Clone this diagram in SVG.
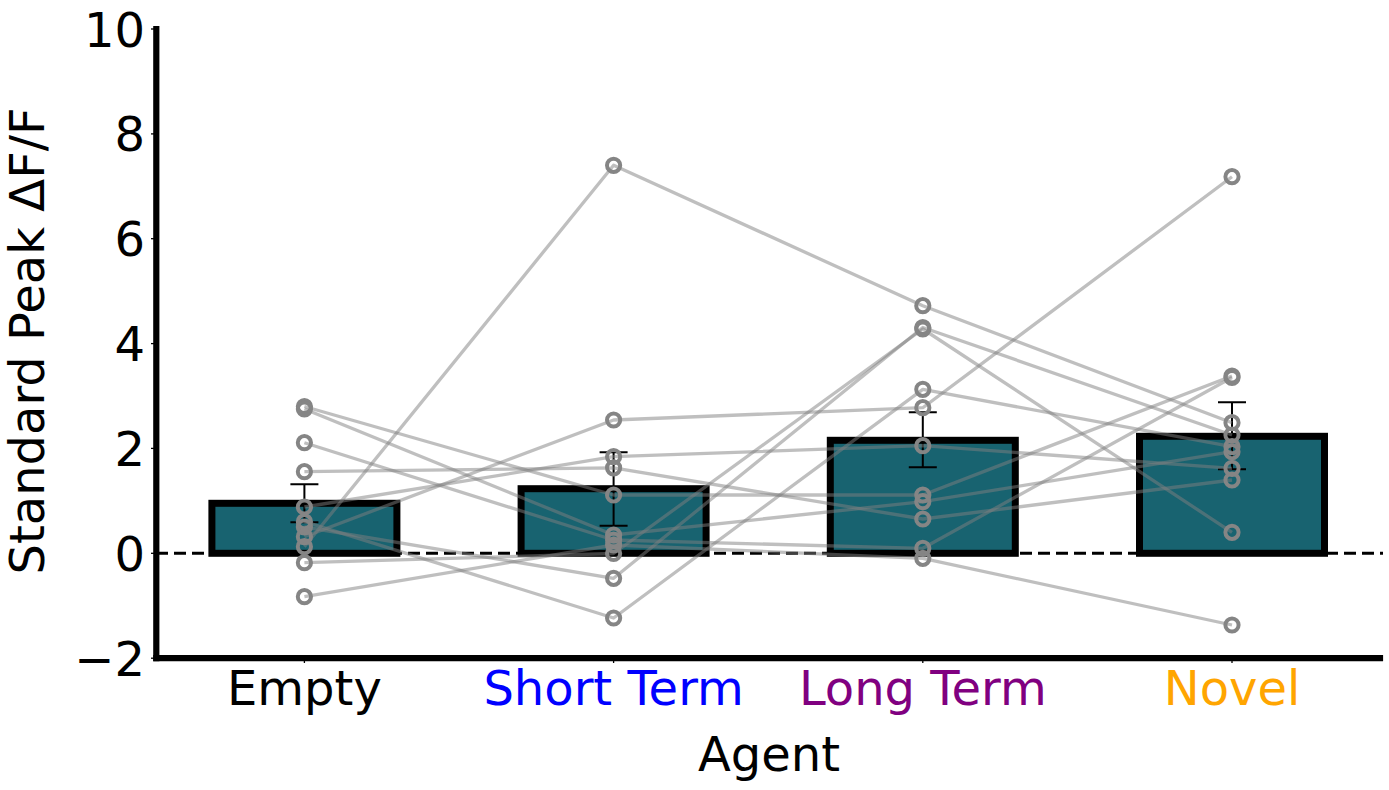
<svg xmlns="http://www.w3.org/2000/svg" width="1389" height="790" viewBox="0 0 1389 790">
<style>
text{font-family:"DejaVu Sans","Liberation Sans",sans-serif;font-size:48px;fill:#000}
.yt{text-anchor:end}
.xt{text-anchor:middle}
.bar{fill:#186370;stroke:#000;stroke-width:7}
.err{stroke:#000;stroke-width:2;fill:none}
.subj{fill:none;stroke:#808080;stroke-opacity:0.5;stroke-width:3.3;stroke-linejoin:round}
.pt{fill:none;stroke:#858585;stroke-width:4}
.tick{stroke:#000;stroke-width:1.3}
.spine{stroke:#000;stroke-width:6.2;stroke-linecap:square}
</style>
<rect width="1389" height="790" fill="#fff"/>

<g id="zero-line">
<line x1="156" y1="553.3" x2="1383" y2="553.3" stroke="#000" stroke-width="3" stroke-dasharray="12,6"/>
</g>

<g id="bar-empty"><rect class="bar" x="211.9" y="503.3" width="185" height="50"/></g>
<g id="bar-short"><rect class="bar" x="521.1" y="488.7" width="185" height="64.6"/></g>
<g id="bar-long"><rect class="bar" x="830.3" y="440.3" width="185" height="113"/></g>
<g id="bar-novel"><rect class="bar" x="1139.5" y="436.3" width="185" height="117"/></g>

<g id="errorbars">
<path class="err" d="M304.4,484.3V522.3M290.4,484.3H318.4M290.4,522.3H318.4"/>
<path class="err" d="M613.6,452.3V525.7M599.6,452.3H627.6M599.6,525.7H627.6"/>
<path class="err" d="M922.8,412.3V467.3M908.8,412.3H936.8M908.8,467.3H936.8"/>
<path class="err" d="M1232,402.3V469.3M1218,402.3H1246M1218,469.3H1246"/>
</g>

<g id="connectors">
<polyline class="subj" points="304.4,406.5 613.6,495 922.8,495 1232,376"/>
<polyline class="subj" points="304.4,409 613.6,535 922.8,501.7 1232,451.7"/>
<polyline class="subj" points="304.4,442.7 613.6,540 922.8,548.3 1232,377.5"/>
<polyline class="subj" points="304.4,471.7 613.6,467.8 922.8,519 1232,480"/>
<polyline class="subj" points="304.4,507 613.6,456.7 922.8,445.7 1232,468.3"/>
<polyline class="subj" points="304.4,521.7 613.6,618 922.8,389.3 1232,446.7"/>
<polyline class="subj" points="304.4,527 613.6,578.3 922.8,327.5 1232,435"/>
<polyline class="subj" points="304.4,536.7 613.6,420 922.8,407.7 1232,176.7"/>
<polyline class="subj" points="304.4,546.7 613.6,165.3 922.8,305.7 1232,422.7"/>
<polyline class="subj" points="304.4,562.7 613.6,553.5 922.8,329 1232,532.3"/>
<polyline class="subj" points="304.4,596.7 613.6,545 922.8,558.3 1232,625"/>
</g>

<g id="points-empty">
<circle class="pt" cx="304.4" cy="406.5" r="6.6"/><circle class="pt" cx="304.4" cy="409" r="6.6"/>
<circle class="pt" cx="304.4" cy="442.7" r="6.6"/><circle class="pt" cx="304.4" cy="471.7" r="6.6"/>
<circle class="pt" cx="304.4" cy="507" r="6.6"/><circle class="pt" cx="304.4" cy="521.7" r="6.6"/>
<circle class="pt" cx="304.4" cy="527" r="6.6"/><circle class="pt" cx="304.4" cy="536.7" r="6.6"/>
<circle class="pt" cx="304.4" cy="546.7" r="6.6"/><circle class="pt" cx="304.4" cy="562.7" r="6.6"/>
<circle class="pt" cx="304.4" cy="596.7" r="6.6"/>
</g>
<g id="points-short">
<circle class="pt" cx="613.6" cy="495" r="6.6"/><circle class="pt" cx="613.6" cy="535" r="6.6"/>
<circle class="pt" cx="613.6" cy="540" r="6.6"/><circle class="pt" cx="613.6" cy="467.8" r="6.6"/>
<circle class="pt" cx="613.6" cy="456.7" r="6.6"/><circle class="pt" cx="613.6" cy="618" r="6.6"/>
<circle class="pt" cx="613.6" cy="578.3" r="6.6"/><circle class="pt" cx="613.6" cy="420" r="6.6"/>
<circle class="pt" cx="613.6" cy="165.3" r="6.6"/><circle class="pt" cx="613.6" cy="553.5" r="6.6"/>
<circle class="pt" cx="613.6" cy="545" r="6.6"/>
</g>
<g id="points-long">
<circle class="pt" cx="922.8" cy="495" r="6.6"/><circle class="pt" cx="922.8" cy="501.7" r="6.6"/>
<circle class="pt" cx="922.8" cy="548.3" r="6.6"/><circle class="pt" cx="922.8" cy="519" r="6.6"/>
<circle class="pt" cx="922.8" cy="445.7" r="6.6"/><circle class="pt" cx="922.8" cy="389.3" r="6.6"/>
<circle class="pt" cx="922.8" cy="327.5" r="6.6"/><circle class="pt" cx="922.8" cy="407.7" r="6.6"/>
<circle class="pt" cx="922.8" cy="305.7" r="6.6"/><circle class="pt" cx="922.8" cy="329" r="6.6"/>
<circle class="pt" cx="922.8" cy="558.3" r="6.6"/>
</g>
<g id="points-novel">
<circle class="pt" cx="1232" cy="376" r="6.6"/><circle class="pt" cx="1232" cy="451.7" r="6.6"/>
<circle class="pt" cx="1232" cy="377.5" r="6.6"/><circle class="pt" cx="1232" cy="480" r="6.6"/>
<circle class="pt" cx="1232" cy="468.3" r="6.6"/><circle class="pt" cx="1232" cy="446.7" r="6.6"/>
<circle class="pt" cx="1232" cy="435" r="6.6"/><circle class="pt" cx="1232" cy="176.7" r="6.6"/>
<circle class="pt" cx="1232" cy="422.7" r="6.6"/><circle class="pt" cx="1232" cy="532.3" r="6.6"/>
<circle class="pt" cx="1232" cy="625" r="6.6"/>
</g>

<g id="axes">
<line class="spine" x1="156.3" y1="29" x2="156.3" y2="658.2"/>
<line class="spine" x1="156.3" y1="658.2" x2="1380" y2="658.2"/>
<g id="y-ticks">
<line class="tick" x1="151" y1="29" x2="156" y2="29"/>
<line class="tick" x1="151" y1="133.9" x2="156" y2="133.9"/>
<line class="tick" x1="151" y1="238.7" x2="156" y2="238.7"/>
<line class="tick" x1="151" y1="343.6" x2="156" y2="343.6"/>
<line class="tick" x1="151" y1="448.4" x2="156" y2="448.4"/>
<line class="tick" x1="151" y1="553.3" x2="156" y2="553.3"/>
<line class="tick" x1="151" y1="658.2" x2="156" y2="658.2"/>
<text class="yt" x="145" y="46.5">10</text>
<text class="yt" x="145" y="151.4">8</text>
<text class="yt" x="145" y="256.2">6</text>
<text class="yt" x="145" y="361.1">4</text>
<text class="yt" x="145" y="465.9">2</text>
<text class="yt" x="145" y="570.8">0</text>
<text class="yt" x="145" y="675.7">−2</text>
</g>
<g id="x-ticks">
<line class="tick" x1="304.4" y1="658" x2="304.4" y2="663"/>
<line class="tick" x1="613.6" y1="658" x2="613.6" y2="663"/>
<line class="tick" x1="922.8" y1="658" x2="922.8" y2="663"/>
<line class="tick" x1="1232" y1="658" x2="1232" y2="663"/>
<text class="xt" x="304.4" y="705">Empty</text>
<text class="xt" x="613.6" y="705" style="fill:#0000ff">Short Term</text>
<text class="xt" x="922.8" y="705" style="fill:#800080">Long Term</text>
<text class="xt" x="1232" y="705" style="fill:#ffa500">Novel</text>
</g>
<text class="xt" x="769" y="771">Agent</text>
<text class="xt" x="44" y="341" transform="rotate(-90 44 341)">Standard Peak ΔF/F</text>
</g>
</svg>
